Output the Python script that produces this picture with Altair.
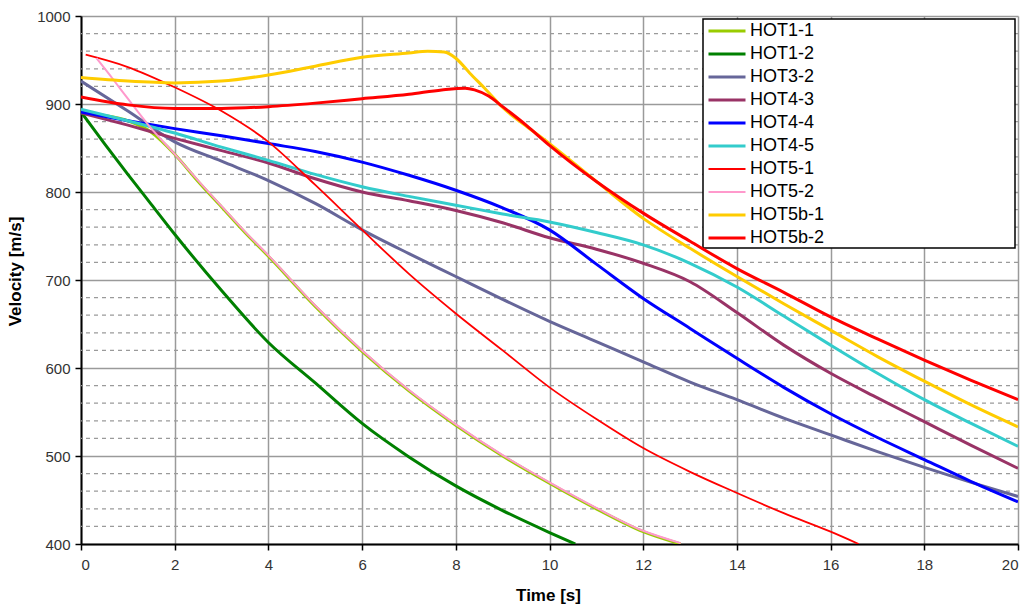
import altair as alt
import pandas as pd

# ---- data ----
series_names = ["HOT1-1", "HOT1-2", "HOT3-2", "HOT4-3", "HOT4-4",
                "HOT4-5", "HOT5-1", "HOT5-2", "HOT5b-1", "HOT5b-2"]
series_colors = ["#99CC00", "#008000", "#666699", "#993366", "#0000FF",
                 "#33CCCC", "#FF0000", "#FF99CC", "#FFCC00", "#FF0000"]
series_widths = [3, 3, 3, 3, 3, 3, 1.8, 2, 3, 3]

hot1_1_t = [0, 0.5, 1, 1.5, 2, 2.5, 3, 3.5, 4, 5, 6, 7, 8, 9, 10, 11, 12, 12.8]
hot1_1_v = [890, 887, 881, 868, 843, 812, 783, 754, 727, 670, 619, 574, 535, 500, 469, 440, 414, 400]

hot1_2_t = [0, 0.5, 1, 1.5, 2, 3, 4, 5, 6, 7, 8, 9, 10, 10.55]
hot1_2_v = [891, 855, 820, 786, 752, 688, 629, 583, 537, 499, 466, 438, 413, 400]

hot3_2_t = [0, 1, 2, 3, 4, 5, 6, 7, 8, 9, 10, 11, 12, 13, 14, 15, 16, 17, 18, 19, 20]
hot3_2_v = [926, 892, 857, 835, 813, 787, 757, 730, 704, 678, 653, 630, 607, 584, 564, 543, 524, 505, 487, 470, 454]

hot4_3_t = [0, 1, 2, 3, 4, 5, 6, 7, 8, 9, 10, 11, 12, 13, 14, 15, 16, 17, 18, 19, 20]
hot4_3_v = [890, 876, 861, 847, 833, 815, 800, 790, 779, 765, 748, 735, 719, 698, 663, 626, 594, 566, 539, 512, 486]

hot4_4_t = [0, 1, 2, 3, 4, 5, 6, 7, 8, 9, 10, 11, 12, 13, 14, 15, 16, 17, 18, 19, 20]
hot4_4_v = [891, 881, 872, 864, 855, 846, 834, 819, 802, 782, 757, 718, 679, 645, 611, 578, 548, 521, 496, 471, 448]

hot4_5_t = [0, 1, 2, 3, 4, 5, 6, 7, 8, 9, 10, 11, 12, 13, 14, 15, 16, 17, 18, 19, 20]
hot4_5_v = [894, 881, 867, 851, 836, 820, 806, 795, 785, 775, 766, 754, 740, 719, 692, 659, 626, 594, 564, 537, 511]

hot5_1_t = [0.1, 1, 2, 3, 4, 5, 6, 7, 8, 9, 10, 11, 12, 13, 14, 15, 16, 16.6]
hot5_1_v = [956, 942, 919, 892, 857, 808, 757, 707, 662, 620, 578, 542, 509, 482, 458, 435, 414, 400]

hot5_2_t = [0.33, 0.7, 1, 1.47, 2, 2.5, 3, 3.5, 4, 5, 6, 7, 8, 9, 10, 11, 12, 12.8]
hot5_2_v = [952, 927, 906, 874, 843, 813, 784, 755, 728, 671, 620, 575, 536, 501, 470, 441, 415, 401]

hot5b_1_t = [0, 1, 2, 3, 4, 5, 6, 7, 7.4, 7.75, 8, 8.3, 8.65, 9, 9.5, 10, 11, 12, 13, 14, 15, 16, 17, 18, 19, 20]
hot5b_1_v = [930, 926, 924, 926, 933, 943, 953, 958, 960, 959, 952, 935, 916, 896, 875, 855, 812, 770, 736, 704, 673, 643, 613, 585, 558, 533]

hot5b_2_t = [0, 1, 2, 3, 4, 5, 6, 7, 7.7, 8.2, 8.4, 8.7, 9, 9.5, 10, 11, 12, 13, 14, 15, 16, 17, 18, 19, 20]
hot5b_2_v = [908, 899, 895, 895, 897, 901, 906, 911, 916, 918, 916, 909, 897, 876, 853, 812, 776, 744, 713, 686, 658, 633, 609, 586, 564]

x_ticks = [0, 2, 4, 6, 8, 10, 12, 14, 16, 18, 20]
y_ticks = [400, 500, 600, 700, 800, 900, 1000]
y_minor = [420, 440, 460, 480, 520, 540, 560, 580, 620, 640, 660, 680,
           720, 740, 760, 780, 820, 840, 860, 880, 920, 940, 960, 980]

# ---- build table ----
all_series = [
    (hot1_1_t, hot1_1_v), (hot1_2_t, hot1_2_v), (hot3_2_t, hot3_2_v),
    (hot4_3_t, hot4_3_v), (hot4_4_t, hot4_4_v), (hot4_5_t, hot4_5_v),
    (hot5_1_t, hot5_1_v), (hot5_2_t, hot5_2_v), (hot5b_1_t, hot5b_1_v),
    (hot5b_2_t, hot5b_2_v),
]
rows = []
for name, w, (ts, vs) in zip(series_names, series_widths, all_series):
    for i, (t, v) in enumerate(zip(ts, vs)):
        rows.append({"series": name, "t": t, "v": v, "i": i, "w": w})
df = pd.DataFrame(rows)

thin_names = [n for n, w in zip(series_names, series_widths) if w < 2.5]
thin_expr = "indexof([" + ",".join("'%s'" % n for n in thin_names) + "], datum.value) >= 0 ? 1.8 : 3"

FONT = "Liberation Sans"

x_scale = alt.Scale(domain=[0, 20], nice=False, zero=False)
y_scale = alt.Scale(domain=[400, 1000], nice=False, zero=False)

minor = alt.Chart(pd.DataFrame({"v": y_minor})).mark_rule(
    color="#9a9a9a", strokeWidth=1.2, strokeDash=[4, 4]
).encode(y=alt.Y("v:Q", scale=y_scale))

legend_box = alt.Chart(pd.DataFrame({"a": [0]})).mark_rect(
    fill="white", stroke="black", strokeWidth=1.5
).encode(x=alt.value(622), x2=alt.value(934), y=alt.value(3), y2=alt.value(232))

lines = alt.Chart(df).mark_line(clip=True, interpolate="monotone").encode(
    x=alt.X("t:Q", scale=x_scale,
            axis=alt.Axis(values=x_ticks, title="Time [s]", titleX=467, titleY=51,
                          titleAlign="center", titleBaseline="middle")),
    y=alt.Y("v:Q", scale=y_scale,
            axis=alt.Axis(values=y_ticks, format="d", title="Velocity [m/s]",
                          titleX=-66, titleY=255, titleAngle=270,
                          titleAlign="center", titleBaseline="middle")),
    color=alt.Color("series:N",
                    scale=alt.Scale(domain=series_names, range=series_colors),
                    sort=series_names,
                    legend=alt.Legend(title=None, orient="none", legendX=637, legendY=6,
                                      padding=0, symbolType="M-1.85,0H1.85",
                                      symbolSize=400,
                                      symbolStrokeWidth=alt.ExprRef(expr=thin_expr),
                                      symbolOffset=0, labelOffset=14, rowPadding=5,
                                      labelFontSize=18, labelFont=FONT,
                                      labelColor="black")),
    strokeWidth=alt.StrokeWidth("w:Q", scale=None, legend=None),
    order="i:Q",
)

chart = alt.layer(minor, legend_box, lines).properties(
    width=937, height=528,
    autosize=alt.AutoSizeParams(type="none"),
    padding={"left": 81, "top": 16, "right": 11, "bottom": 63},
).configure_view(stroke=None).configure_axis(
    grid=True, gridColor="#9a9a9a", gridWidth=1.5,
    domainColor="black", domainWidth=2,
    tickColor="black", tickWidth=1.5, tickSize=6,
    labelFont=FONT, labelFontSize=15, labelColor="#333333", labelPadding=5,
    titleFont=FONT, titleFontSize=17, titleFontWeight="bold", titleColor="black",
).configure_axisX(labelPadding=7).configure_axisY(labelPadding=5)

chart.save("out.html", embed_options={"renderer": "svg", "actions": False})
